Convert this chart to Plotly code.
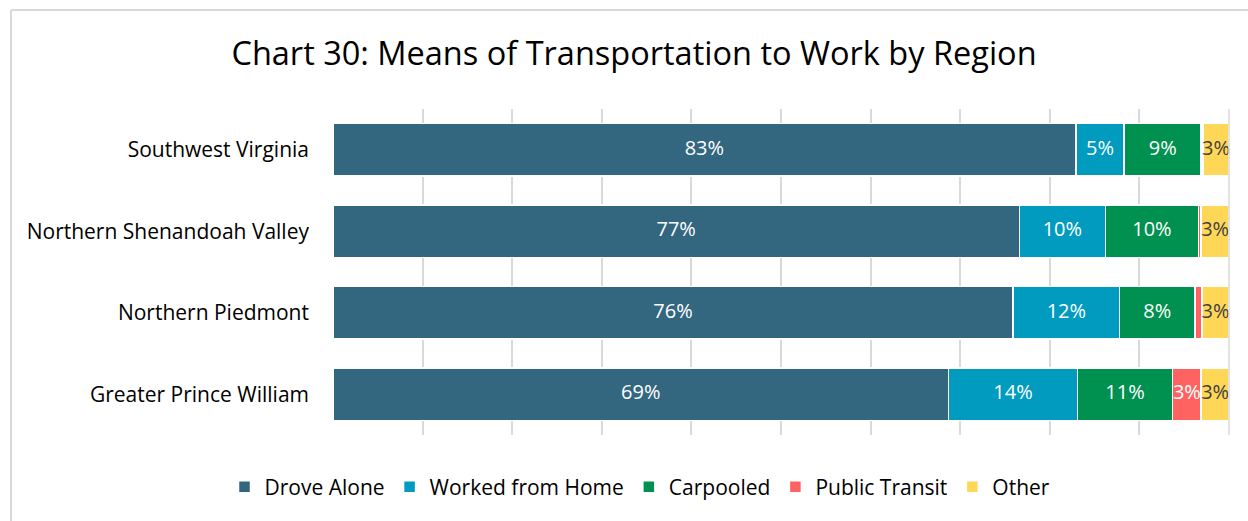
import plotly.graph_objects as go

regions = ["Southwest Virginia", "Northern Shenandoah Valley", "Northern Piedmont", "Greater Prince William"]
drove_alone = [82.9, 76.6, 75.9, 68.7]
worked_from_home = [5.4, 9.6, 11.9, 14.4]
carpooled = [8.6, 10.4, 8.4, 10.6]
public_transit = [0.2, 0.3, 0.8, 3.2]
other = [2.9, 3.1, 3.0, 3.1]

series = [
    ("Drove Alone", drove_alone, "#33667F", "white"),
    ("Worked from Home", worked_from_home, "#009BBE", "white"),
    ("Carpooled", carpooled, "#00904F", "white"),
    ("Public Transit", public_transit, "#FF6361", "white"),
    ("Other", other, "#FFD757", "#404040"),
]

FONT = "Open Sans"
fig = go.Figure()
for name, vals, color, tcolor in series:
    fig.add_trace(go.Bar(
        name=name, y=regions, x=vals, orientation="h",
        marker=dict(color=color, line=dict(color="white", width=1.5)),
        hoverinfo="x+y+name",
    ))

# data labels, centred in each segment
base = [0.0] * len(regions)
for name, vals, color, tcolor in series:
    mids = [b + v / 2 for b, v in zip(base, vals)]
    fig.add_trace(go.Scatter(
        x=mids, y=regions, mode="text",
        text=[f"{round(v)}%" if v >= 1 else "" for v in vals],
        textposition="middle center",
        textfont=dict(color=tcolor, size=20, family=FONT),
        showlegend=False, hoverinfo="skip", cliponaxis=False,
    ))
    base = [b + v for b, v in zip(base, vals)]

W, H = 1248, 521
L, R, T, B = 333, 19, 109, 86
pw, ph = W - L - R, H - T - B

fig.update_layout(
    barmode="stack",
    width=W, height=H,
    margin=dict(l=L, r=R, t=T, b=B),
    paper_bgcolor="white", plot_bgcolor="white",
    bargap=0.35,
    title=dict(text="Chart 30: Means of Transportation to Work by Region",
               x=634 / W, xanchor="center", y=1 - 54 / H, yanchor="middle",
               font=dict(family=FONT, size=32.5, color="#000000")),
    xaxis=dict(range=[0, 100], dtick=10, showticklabels=False, showgrid=True,
               gridcolor="#D9D9D9", gridwidth=1.5, zeroline=False, showline=False,
               fixedrange=True),
    yaxis=dict(autorange="reversed", tickfont=dict(family=FONT, size=21, color="#000000"),
               ticks="", ticklen=0, showline=False, showgrid=False, ticklabelstandoff=23),
    legend=dict(orientation="h", x=(640 - L) / pw, xanchor="center", y=-(487 - (T + ph)) / ph, yanchor="middle",
                font=dict(family=FONT, size=21, color="#000000"), traceorder="normal",
                itemwidth=30),
    font=dict(family=FONT),
    shapes=[
        dict(type="line", xref="paper", yref="paper",
             x0=(11 - L) / pw, x1=(1260 - L) / pw, y0=1 + (T - 10) / ph, y1=1 + (T - 10) / ph,
             line=dict(color="#D9D9D9", width=2)),
        dict(type="line", xref="paper", yref="paper",
             x0=(11 - L) / pw, x1=(11 - L) / pw, y0=1 + (T - 10) / ph, y1=-(B + 20) / ph,
             line=dict(color="#D9D9D9", width=2)),
        dict(type="line", xref="paper", yref="paper",
             x0=1, x1=1, y0=1, y1=-(435 - (T + ph)) / ph,
             line=dict(color="#D9D9D9", width=1.5)),
    ],
)

fig.write_html("out.html", config={"displayModeBar": False},
               post_script="document.body.style.margin='0';document.body.style.overflow='hidden';")
